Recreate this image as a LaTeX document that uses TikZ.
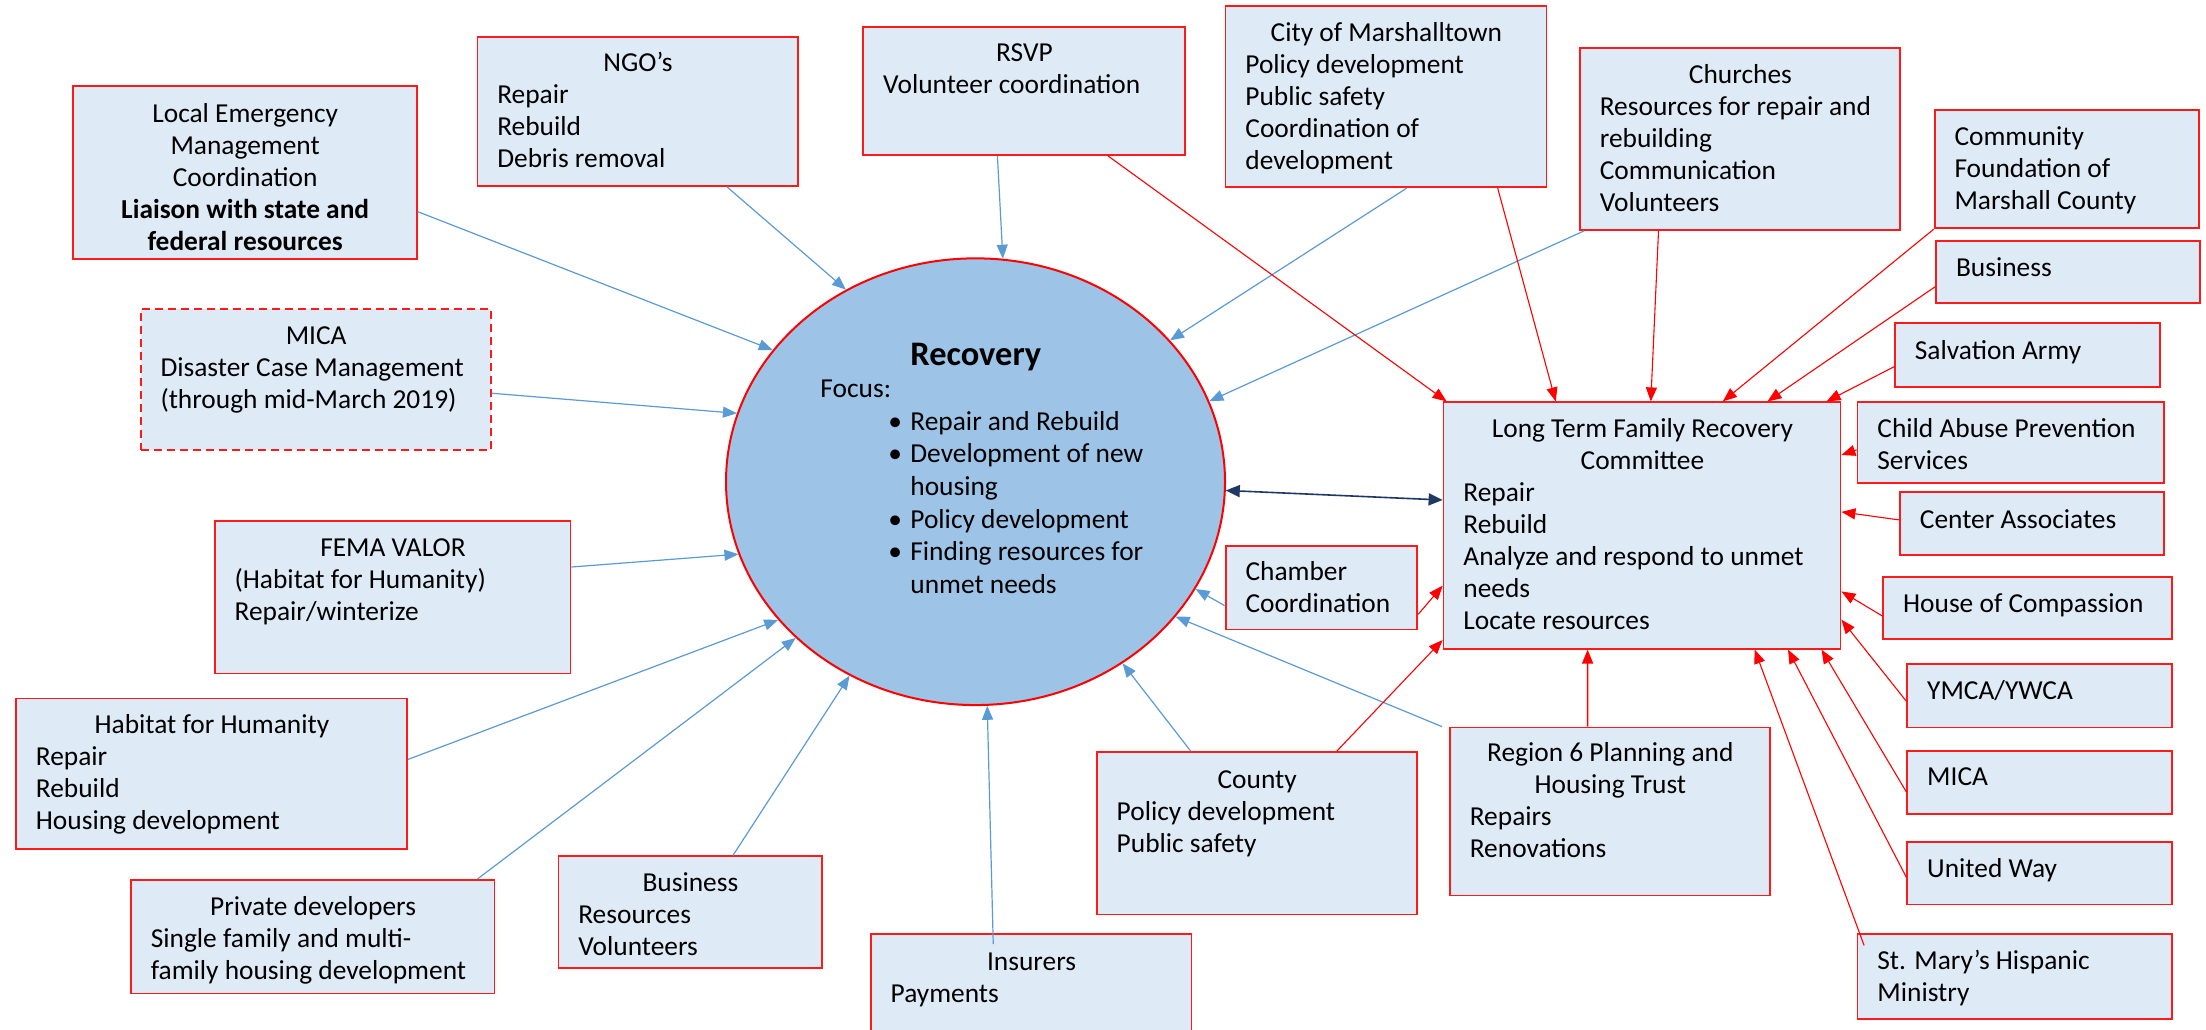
\documentclass[tikz,border=0pt]{standalone}
\usepackage{fontspec}
\setmainfont{Carlito}
\usetikzlibrary{arrows.meta,shapes.geometric,fit}
\definecolor{bfill}{HTML}{DEEBF7}
\definecolor{bred}{HTML}{FF1A1A}
\definecolor{recfill}{HTML}{9DC3E6}
\definecolor{bblue}{HTML}{5B9BD5}
\definecolor{navy}{HTML}{1F3864}
\newcommand\fs{\fontsize{13.7pt}{16pt}\selectfont}
\newcommand\Cl[2]{\makebox[#1pt][c]{#2}}
\newcommand\Fr{\rule{0pt}{12pt}}
\begin{document}
\begin{tikzpicture}[x=0.5pt,y=-0.5pt,
  box/.style={draw=bred, fill=bfill, line width=0.9pt, inner sep=0pt},
  txt/.style={anchor=north west, inner sep=0pt, align=left, font=\fs, yshift=-1pt},
  barrow/.style={draw=bblue, line width=0.6pt, -{Triangle[length=7pt,width=5.5pt]}},
  rarrow/.style={draw=red, line width=0.55pt, -{Triangle[length=7pt,width=5.5pt]}},
  darrow/.style={draw=navy, line width=0.8pt, {Triangle[length=7pt,width=6pt]}-{Triangle[length=7pt,width=6pt]}}
]
\clip (0,0) rectangle (2206,1029);
\fill[white] (0,0) rectangle (2206,1029);

% ---------- Recovery ellipse ----------
\node[ellipse, draw=red, fill=recfill, line width=1pt, inner sep=0pt,
      minimum width=249.5pt, minimum height=223.35pt] (rec) at (975.5,481.7) {};
\node[anchor=base, inner sep=0pt, font=\fontsize{17.2pt}{20pt}\selectfont\bfseries] (recT) at (975.8,365) {Recovery};
\node[anchor=north west, inner sep=0pt, align=left, font=\fontsize{13.7pt}{16.3pt}\selectfont] (focT) at (820,373.3)
 {\Fr Focus:\\
  \hspace*{34pt}\makebox[11pt][l]{•}Repair and Rebuild\\
  \hspace*{34pt}\makebox[11pt][l]{•}Development of new\\
  \hspace*{45pt}housing\\
  \hspace*{34pt}\makebox[11pt][l]{•}Policy development\\
  \hspace*{34pt}\makebox[11pt][l]{•}Finding resources for\\
  \hspace*{45pt}unmet needs};

% ---------- Boxes (left / top) ----------
\node[box, fit={(72.7,86) (416.8,259.3)}] (lem) {};
\node[txt] (lemT) at (92.2,95.7) {\Fr\Cl{152.55}{Local Emergency}\\\Cl{152.55}{Management}\\\Cl{152.55}{Coordination}\\\Cl{152.55}{\bfseries Liaison with state and}\\\Cl{152.55}{\bfseries federal resources}};

\node[box, fit={(477.4,37.3) (797.8,186)}] (ngo) {};
\node[txt] (ngoT) at (496.9,45.3) {\Fr\Cl{140.7}{NGO’s}\\Repair\\Rebuild\\Debris removal};

\node[box, dashed, dash pattern=on 4pt off 2.5pt, fit={(140.6,309.3) (491,450)}] (micad) {};
\node[txt] (micadT) at (160.1,318) {\Fr\Cl{155.7}{MICA}\\Disaster Case Management\\(through mid-March 2019)};

\node[box, fit={(863.3,27.3) (1184.7,155)}] (rsvp) {};
\node[txt] (rsvpT) at (882.8,35.3) {\Fr\Cl{141.2}{RSVP}\\Volunteer coordination};

\node[box, fit={(1225.5,6) (1546.5,187.3)}] (city) {};
\node[txt] (cityT) at (1245,14.7) {\Fr\Cl{141}{City of Marshalltown}\\Policy development\\Public safety\\Coordination of\\development};

\node[box, fit={(1579.9,48.3) (1900.1,230)}] (church) {};
\node[txt] (churchT) at (1599.4,57) {\Fr\Cl{140.6}{Churches}\\Resources for repair and\\rebuilding\\Communication\\Volunteers};

\node[box, fit={(214.7,520.6) (570.5,673.4)}] (fema) {};
\node[txt] (femaT) at (234.2,530.1) {\Fr\Cl{158.4}{FEMA VALOR}\\(Habitat for Humanity)\\Repair/winterize};

\node[box, fit={(16,698.4) (407.1,849)}] (hab) {};
\node[txt] (habT) at (35.5,707.2) {\Fr\Cl{176.05}{Habitat for Humanity}\\Repair\\Rebuild\\Housing development};

\node[box, fit={(130.9,879.9) (494.4,993.5)}] (pd) {};
\node[txt] (pdT) at (150.4,889.4) {\Fr\Cl{162.25}{Private developers}\\Single family and multi-\\family housing development};

\node[box, fit={(558.4,856.3) (821.7,968)}] (busb) {};
\node[txt] (busbT) at (577.9,865) {\Fr\Cl{112.15}{Business}\\Resources\\Volunteers};

\node[box, fit={(870.8,934) (1191.5,1040)}] (ins) {};
\node[txt] (insT) at (890.3,944.3) {\Fr\Cl{140.85}{Insurers}\\Payments};

\node[box, fit={(1096.8,752.1) (1416.8,914.5)}] (county) {};
\node[txt] (countyT) at (1116.3,762.4) {\Fr\Cl{140.5}{County}\\Policy development\\Public safety};

\node[box, fit={(1225.6,546) (1417.3,629.4)}] (chamber) {};
\node[txt] (chamberT) at (1245.1,554.3) {\Fr Chamber\\Coordination};

% ---------- LTFRC and right column ----------
\node[box, fit={(1443.5,402.3) (1840.5,648.7)}] (ltfrc) {};
\node[txt] (ltfrcT) at (1463,410.7) {\Fr\Cl{179}{Long Term Family Recovery}\\\Cl{179}{Committee}\\Repair\\Rebuild\\Analyze and respond to unmet\\needs\\Locate resources};

\node[box, fit={(1449.9,727.5) (1770,895.5)}] (reg6) {};
\node[txt] (reg6T) at (1469.4,735.1) {\Fr\Cl{140.55}{Region 6 Planning and}\\\Cl{140.55}{Housing Trust}\\Repairs\\Renovations};

\node[box, fit={(1934.6,110) (2199.3,228.3)}] (cf) {};
\node[txt] (cfT) at (1954.1,118.7) {\Fr Community\\Foundation of\\Marshall County};

\node[box, fit={(1936.1,240.7) (2200.3,303.3)}] (busr) {};
\node[txt] (busrT) at (1955.6,249.7) {\Fr Business};

\node[box, fit={(1895,323.3) (2159.7,386.7)}] (salv) {};
\node[txt] (salvT) at (1914.5,333) {\Fr Salvation Army};

\node[box, fit={(1857.5,402.3) (2164.3,483.3)}] (child) {};
\node[txt] (childT) at (1877,410.7) {\Fr Child Abuse Prevention\\Services};

\node[box, fit={(1900,491.9) (2164.3,555.1)}] (cassoc) {};
\node[txt] (cassocT) at (1919.5,501.8) {\Fr Center Associates};

\node[box, fit={(1883.2,576.9) (2172,638.9)}] (house) {};
\node[txt] (houseT) at (1902.7,586.3) {\Fr House of Compassion};

\node[box, fit={(1907.3,664.3) (2172,727.5)}] (ymca) {};
\node[txt] (ymcaT) at (1926.8,673.4) {\Fr YMCA/YWCA};

\node[box, fit={(1907.3,751) (2172,813.8)}] (micar) {};
\node[txt] (micarT) at (1926.8,759.4) {\Fr MICA};

\node[box, fit={(1907.3,841.8) (2172,904.5)}] (uw) {};
\node[txt] (uwT) at (1926.8,851.3) {\Fr United Way};

\node[box, fit={(1857.5,934.3) (2172,1018.9)}] (stm) {};
\node[txt] (stmT) at (1877,942.7) {\Fr St. Mary’s Hispanic\\Ministry};

% ---------- Blue arrows into Recovery ----------
\draw[barrow] ([yshift=-19.5pt]lem.east) -- (rec.147.9);
\draw[barrow] ([xshift=44.7pt]ngo.south) -- (rec.124);
\draw[barrow] ([xshift=-13.3pt]rsvp.south) -- (rec.83.7);
\draw[barrow] ([xshift=10.3pt]city.south) -- (rec.36.8);
\draw[barrow] ([xshift=2.5pt]church.south west) -- (rec.19.5);
\draw[barrow] ([yshift=-6.8pt]micad.east) -- (rec.164.8);
\draw[barrow] ([yshift=15pt]fema.east) -- (rec.197.1);
\draw[barrow] ([yshift=7.15pt]hab.east) -- (rec.215.3);
\draw[barrow] ([xshift=82.4pt]pd.north) -- (rec.221.5);
\draw[barrow] ([xshift=21.45pt]busb.north) -- (rec.237.9);
\draw[barrow] ([xshift=-18.95pt,yshift=-5.5pt]ins.north) -- (rec.-87.6);
\draw[barrow] ([xshift=-33pt]county.north) -- (rec.-51.4);
\draw[barrow] ([xshift=-3.5pt]reg6.north west) -- (rec.-34.6);
\draw[barrow] ([yshift=-9pt]chamber.west) -- (rec.-26.8);

% ---------- Red arrows into LTFRC ----------
\draw[rarrow] ([xshift=42pt]rsvp.south) -- ([xshift=2pt]ltfrc.north west);
\draw[rarrow] ([xshift=55.85pt]city.south) -- ([xshift=-43.15pt]ltfrc.north);
\draw[rarrow] ([xshift=-40.75pt]church.south) -- ([xshift=4.4pt]ltfrc.north);
\draw[rarrow] (cf.south west) -- ([xshift=40.4pt]ltfrc.north);
\draw[rarrow] ([yshift=-7.35pt]busr.west) -- ([xshift=62.75pt]ltfrc.north);
\draw[rarrow] ([yshift=-5.85pt]salv.west) -- ([xshift=92.3pt]ltfrc.north);
\draw[rarrow] ([yshift=-3.5pt]child.west) -- ([yshift=35.25pt]ltfrc.east);
\draw[rarrow] ([yshift=1.8pt]cassoc.west) -- ([yshift=6.8pt]ltfrc.east);
\draw[rarrow] ([yshift=-4.05pt]house.west) -- ([yshift=-32.95pt]ltfrc.east);
\draw[rarrow] ([yshift=-2.7pt]ymca.west) -- ([yshift=-47.1pt]ltfrc.east);
\draw[rarrow] ([yshift=-4.8pt]micar.west) -- ([xshift=89.75pt]ltfrc.south);
\draw[rarrow] ([yshift=-2.1pt]uw.west) -- ([xshift=73pt]ltfrc.south);
\draw[rarrow] ([xshift=3.75pt,yshift=-6pt]stm.north west) -- ([xshift=56.35pt]ltfrc.south);
\draw[rarrow, line width=0.8pt] ([xshift=-11.2pt]reg6.north) -- ([xshift=-27.2pt]ltfrc.south);
\draw[rarrow] ([xshift=39.95pt]county.north) -- ([yshift=-57.25pt]ltfrc.west);
\draw[rarrow] ([yshift=-13.3pt]chamber.east) -- ([yshift=-30.1pt]ltfrc.west);

% ---------- Two-way link ----------
\draw[darrow] (rec.-2.3) -- ([yshift=12.75pt]ltfrc.west);
\end{tikzpicture}
\end{document}
